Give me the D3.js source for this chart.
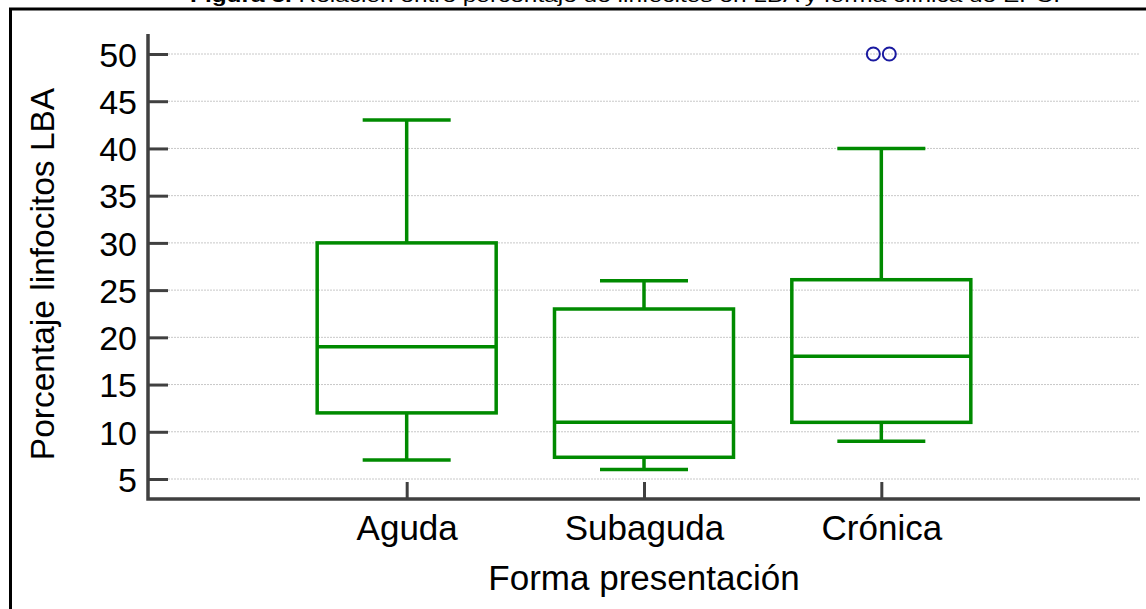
<!DOCTYPE html>
<html>
<head>
<meta charset="utf-8">
<script src="https://cdn.jsdelivr.net/npm/d3@7"></script>
<style>
  html, body { margin: 0; padding: 0; background: #fff; }
  svg { display: block; font-family: "Liberation Sans", Arial, sans-serif; }
</style>
</head>
<body>
<svg id="chart" width="1146" height="609"></svg>
<script>
// Clinical presentation groups and their box-plot summaries (% lymphocytes in BAL)
const categories = ["Aguda", "Subaguda", "Crónica"];
const whiskerLow = [7, 6, 9];
const q1 = [12, 7.3, 11];
const median = [19, 11, 18];
const q3 = [30, 23, 26.1];
const whiskerHigh = [43, 26, 40];
// Outliers: [group index, value]
const outliers = [[2, 50], [2, 50]];
const yTicks = [5, 10, 15, 20, 25, 30, 35, 40, 45, 50];

(function () {
const svg = d3.select("#chart");
const W = 1146, H = 609;

const plotLeft = 148, plotRight = 1140, plotBottom = 499, plotTop = 34;

const x = d3.scalePoint().domain(categories).range([plotLeft, plotRight]).padding(1.09);
const y = d3.scaleLinear().domain([5, 50]).range([479, 54]);

// Page frame and caption (caption runs off the top edge)
svg.append("text")
  .attr("x", 190).attr("y", 2)
  .attr("font-size", 18).attr("fill", "#000")
  .attr("textLength", 870).attr("lengthAdjust", "spacingAndGlyphs")
  .html('<tspan font-weight="bold">Figura 5.</tspan> Relación entre porcentaje de linfocitos en LBA y forma clínica de EPC.');
svg.append("line").attr("x1", 9).attr("x2", W).attr("y1", 9).attr("y2", 9)
  .attr("stroke", "#000").attr("stroke-width", 3);
svg.append("line").attr("x1", 10.5).attr("x2", 10.5).attr("y1", 8).attr("y2", H)
  .attr("stroke", "#000").attr("stroke-width", 3);

// Grid lines
svg.append("g").selectAll("line").data(yTicks).join("line")
  .attr("x1", plotLeft + 20).attr("x2", plotRight)
  .attr("y1", d => y(d)).attr("y2", d => y(d))
  .attr("stroke", "#c8c8c8").attr("stroke-width", 1)
  .attr("stroke-dasharray", "2,1");

// Y axis
const yAxis = svg.append("g").attr("transform", `translate(${plotLeft},0)`)
  .call(d3.axisRight(y).tickValues(yTicks).tickSize(20).tickFormat(d3.format("d")));
yAxis.select(".domain").remove();
yAxis.selectAll(".tick line").attr("stroke", "#404040").attr("stroke-width", 3);
yAxis.selectAll(".tick text")
  .attr("x", -11).attr("text-anchor", "end").attr("dy", "0.36em")
  .attr("font-size", 34).attr("fill", "#000")
  .attr("font-family", "'Liberation Sans', Arial, sans-serif");

// X axis
const xAxis = svg.append("g").attr("transform", `translate(0,${plotBottom})`)
  .call(d3.axisTop(x).tickSize(17).tickFormat(""));
xAxis.select(".domain").remove();
xAxis.selectAll(".tick line").attr("stroke", "#404040").attr("stroke-width", 3);
xAxis.selectAll(".tick").append("text")
  .attr("y", 41).attr("text-anchor", "middle")
  .attr("font-size", 35).attr("fill", "#000")
  .attr("font-family", "'Liberation Sans', Arial, sans-serif")
  .text(d => d);

// Axis lines
svg.append("path")
  .attr("d", `M${plotLeft},${plotTop}V${plotBottom}H${plotRight}`)
  .attr("fill", "none").attr("stroke", "#404040").attr("stroke-width", 3.5);

// Axis titles
svg.append("text")
  .attr("transform", `translate(54,274) rotate(-90)`)
  .attr("text-anchor", "middle").attr("font-size", 33.5).attr("fill", "#000")
  .text("Porcentaje linfocitos LBA");
svg.append("text")
  .attr("x", x("Subaguda")).attr("y", 590)
  .attr("text-anchor", "middle").attr("font-size", 35).attr("fill", "#000")
  .text("Forma presentación");

// Box plots
const green = "#008a00";
const boxW = 179, capW = 88;
const boxes = svg.append("g").attr("fill", "none").attr("stroke", green).attr("stroke-width", 3.5);
categories.forEach((c, i) => {
  const cx = x(c);
  const g = boxes.append("g");
  // whiskers
  g.append("line").attr("x1", cx).attr("x2", cx).attr("y1", y(whiskerHigh[i])).attr("y2", y(q3[i]));
  g.append("line").attr("x1", cx).attr("x2", cx).attr("y1", y(q1[i])).attr("y2", y(whiskerLow[i]));
  g.append("line").attr("x1", cx - capW / 2).attr("x2", cx + capW / 2).attr("y1", y(whiskerHigh[i])).attr("y2", y(whiskerHigh[i]));
  g.append("line").attr("x1", cx - capW / 2).attr("x2", cx + capW / 2).attr("y1", y(whiskerLow[i])).attr("y2", y(whiskerLow[i]));
  // box
  g.append("rect").attr("x", cx - boxW / 2).attr("width", boxW)
    .attr("y", y(q3[i])).attr("height", y(q1[i]) - y(q3[i]));
  // median
  g.append("line").attr("x1", cx - boxW / 2).attr("x2", cx + boxW / 2).attr("y1", y(median[i])).attr("y2", y(median[i]));
});

// Outliers, spread sideways so coincident values stay visible
svg.append("g").selectAll("circle").data(outliers).join("circle")
  .attr("cx", (d, j) => x(categories[d[0]]) + (j - (outliers.length - 1) / 2) * 16)
  .attr("cy", d => y(d[1]))
  .attr("r", 6.5)
  .attr("fill", "none").attr("stroke", "#1a1aa0").attr("stroke-width", 2);
})();
</script>
</body>
</html>
